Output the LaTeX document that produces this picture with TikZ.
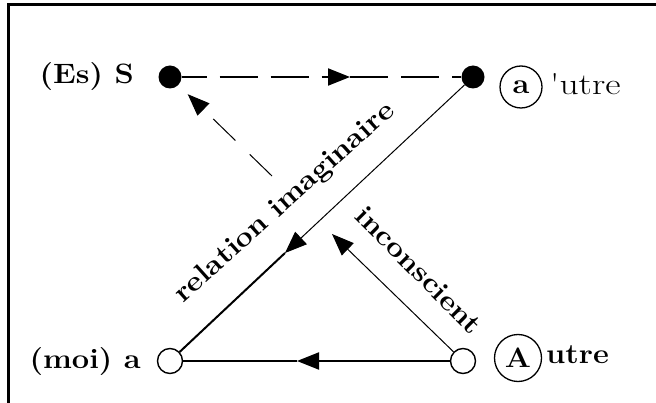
\documentclass[tikz,border=0pt]{standalone}
\usepackage{fontspec}
\usetikzlibrary{arrows.meta}
\newcommand\widetxt[1]{\scalebox{1.1}[1]{#1}}
\begin{document}
\begin{tikzpicture}[x=1pt,y=-1pt,
  lbl/.style={font=\fontsize{28}{32}\selectfont\bfseries, inner sep=0pt},
  dot/.style={circle, fill=black, minimum size=23pt, inner sep=0pt},
  hollow/.style={circle, draw, line width=1.4pt, minimum size=25pt, inner sep=0pt},
  ring/.style={circle, draw, line width=1.3pt, inner sep=0pt},
  tip/.style={-{Triangle[length=22pt,width=17pt]}},
  heavy/.style={line width=2pt},
  light/.style={line width=1pt},
  dashtop/.style={line width=2pt, dash pattern=on 38pt off 13pt},
  dashdiag/.style={line width=1pt, dash pattern=on 31pt off 20pt}]
\useasboundingbox (0,0) rectangle (656,403);

% frame
\draw[line width=3pt] (8.5,403) -- (8.5,5) -- (656,5);

% the four positions
\node[dot] (S) at (170,77) {};
\node[dot] (ap) at (473,77) {};
\node[hollow] (moi) at (170,361) {};
\node[hollow] (A) at (463,361) {};

% names of the positions
\node[lbl, anchor=base east] (tS) at (134,84) {\widetxt{(Es) S}};
\node[lbl, anchor=base east] (tmoi) at (141,368) {\widetxt{(moi) a}};
\node[ring, minimum size=42pt, font=\fontsize{28}{32}\selectfont\bfseries] (ca) at (521,87) {\widetxt{a}};
\node[lbl, anchor=base west, font=\fontsize{30}{34}\selectfont] (tap) at (550,95) {\scalebox{1.25}[1]{\textquotesingle utre}};
\node[ring, minimum size=47pt, font=\fontsize{28}{32}\selectfont\bfseries] (cA) at (518,358) {\widetxt{A}};
\node[lbl, anchor=base west] (tA) at (546,363) {\widetxt{utre}};

% arrow tips along the connectors
\coordinate (m0) at (350,77);
\coordinate (m1) at (285,253);
\coordinate (m2) at (332,234);
\coordinate (m3) at (272,176);
\coordinate (m5) at (297,361);

% S -> a'
\draw[dashtop, dash phase=13pt, tip] (S) -- (m0);
\draw[dashtop] (m0) -- (ap);

% a' -> moi (imaginary axis)
\draw[light, tip] (ap) -- (m1);
\draw[heavy] (m1) -- (moi);

% A -> moi
\draw[heavy, tip] (A) -- (m5);
\draw[heavy] (m5) -- (moi);

% A -> S (unconscious), broken by the imaginary axis
\draw[light, tip] (A) -- (m2);
\draw[dashdiag, tip, shorten >=13pt] (m3) -- (S);

% axis labels
\node[lbl, rotate=42] (rel) at (285,203) {\widetxt{relation imaginaire}};
\node[lbl, rotate=-45] (inc) at (419,270) {\widetxt{inconscient}};
\end{tikzpicture}
\end{document}
